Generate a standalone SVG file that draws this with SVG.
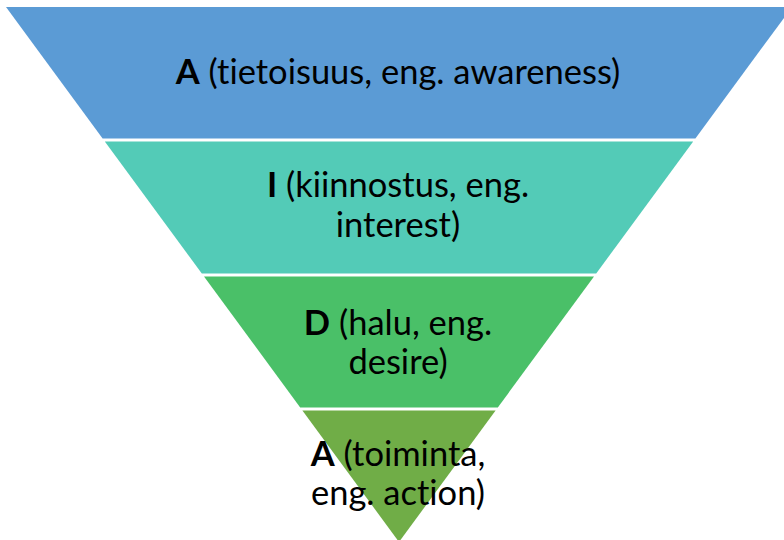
<svg xmlns="http://www.w3.org/2000/svg" width="784" height="540" viewBox="0 0 784 540">
  <style>
    .lbl { font-family: Lato, "Liberation Sans", sans-serif; font-size: 34.5px; fill: #000; text-anchor: middle; font-variant-ligatures: none; }
    .b { font-weight: bold; }
  </style>
  <rect width="784" height="540" fill="#fff"/>
  <g id="awareness">
    <polygon points="6,7 792,7 695.4,138.5 102.6,138.5" fill="#5B9BD5"/>
    <text class="lbl" x="398" y="84"><tspan class="b">A</tspan> (tietoisuus, eng. awareness)</text>
  </g>
  <g id="interest">
    <polygon points="104.8,141.5 693.2,141.5 596.2,273.5 201.8,273.5" fill="#53CBB7"/>
    <text class="lbl" x="398" y="197"><tspan class="b">I</tspan> (kiinnostus, eng.</text>
    <text class="lbl" x="398" y="237">interest)</text>
  </g>
  <g id="desire">
    <polygon points="204,276.5 594,276.5 497.8,407.5 300.2,407.5" fill="#4AC068"/>
    <text class="lbl" x="398" y="335"><tspan class="b">D</tspan> (halu, eng.</text>
    <text class="lbl" x="398" y="374">desire)</text>
  </g>
  <g id="action">
    <polygon points="302.4,410.5 495.6,410.5 399,542" fill="#70AD47"/>
    <text class="lbl" x="398" y="466"><tspan class="b">A</tspan> (toiminta,</text>
    <text class="lbl" x="398" y="505">eng. action)</text>
  </g>
  <g id="connectors"/>
</svg>
